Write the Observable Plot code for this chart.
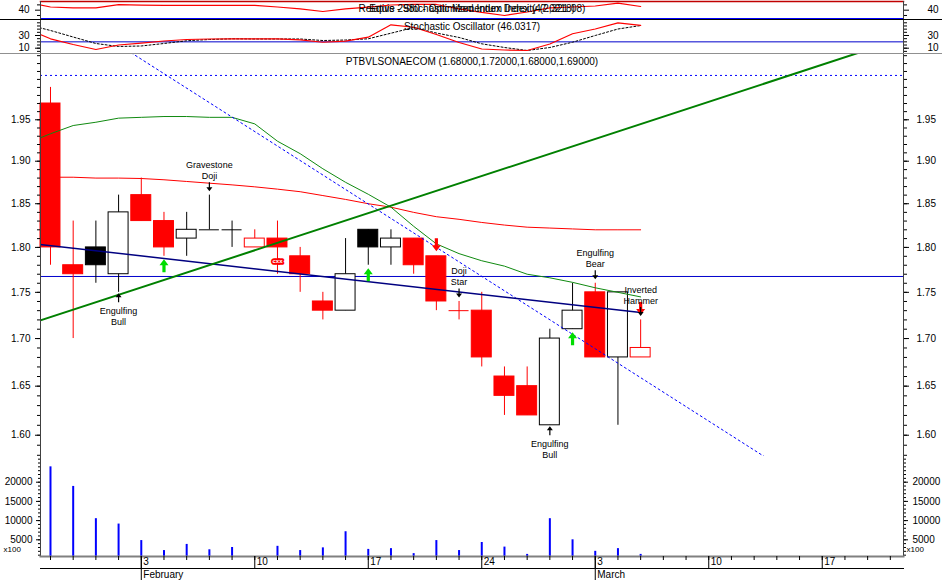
<!DOCTYPE html>
<html><head><meta charset="utf-8">
<script src="https://cdn.jsdelivr.net/npm/d3@7"></script>
<script src="https://cdn.jsdelivr.net/npm/@observablehq/plot@0.6"></script>
<style>
body{margin:0;background:#fff;}
#chart{position:relative;width:942px;height:580px;overflow:hidden;background:#fff;font-family:"Liberation Sans",Arial,sans-serif;}
.panel{position:absolute;left:0;width:942px;}
.panel svg{overflow:visible;display:block;}
</style></head><body>
<div id="chart">
<div class="panel" id="pA" style="top:0"></div>
<div class="panel" id="pB" style="top:19px;border-top:1px solid #000"></div>
<div class="panel" id="pC" style="top:53px;border-top:1px solid #909090"></div>
<div class="panel" id="pD" style="top:456px"></div>
</div>
<script>
// ---------- data ----------
const dates = ["Jan 28","Jan 29","Jan 30","Jan 31","Feb 3","Feb 4","Feb 5","Feb 6","Feb 7","Feb 10","Feb 11","Feb 12","Feb 13","Feb 14","Feb 17","Feb 18","Feb 19","Feb 20","Feb 21","Feb 24","Feb 25","Feb 26","Feb 27","Feb 28","Mar 3","Mar 4","Mar 5"];
const open  = [1.97,1.78,1.80,1.77,1.86,1.83,1.81,1.82,1.82,1.80,1.81,1.79,1.74,1.73,1.82,1.80,1.81,1.79,1.73,1.73,1.66,1.65,1.61,1.71,1.75,1.68,1.68];
const high  = [1.99,1.83,1.83,1.86,1.88,1.84,1.84,1.86,1.83,1.82,1.83,1.80,1.75,1.81,1.82,1.82,1.81,1.79,1.74,1.75,1.67,1.67,1.71,1.76,1.76,1.75,1.72];
const low   = [1.78,1.70,1.76,1.75,1.83,1.79,1.79,1.82,1.80,1.80,1.77,1.75,1.72,1.73,1.78,1.78,1.77,1.73,1.72,1.67,1.62,1.62,1.61,1.71,1.68,1.61,1.68];
const close = [1.80,1.77,1.78,1.84,1.83,1.80,1.82,1.82,1.82,1.81,1.80,1.77,1.73,1.77,1.80,1.81,1.78,1.74,1.73,1.68,1.64,1.62,1.70,1.73,1.68,1.75,1.69];
const volume = [24000,18900,10500,9100,4800,2200,3800,2400,3000,0,3300,2200,2900,7100,2500,2700,1400,4800,2200,4300,3100,1200,10500,5000,2000,2700,1200];

// indicator series start one session before the first visible candle (index -1)
const indIdx = d3.range(-1, 27);
const maLong  = [1.922,1.933,1.943,1.947,1.952,1.953,1.954,1.954,1.953,1.953,1.945,1.924,1.909,1.891,1.875,1.861,1.846,1.824,1.804,1.793,1.785,1.779,1.770,1.766,1.761,1.755,1.750,1.745];
const maRed   = [1.881,1.881,1.881,1.880,1.880,1.8795,1.878,1.876,1.874,1.872,1.8697,1.867,1.864,1.8595,1.855,1.850,1.846,1.840,1.835,1.832,1.8284,1.8254,1.823,1.822,1.821,1.820,1.820,1.820];
const stochK  = [40.0,24.8,15.8,8.0,15.0,17.9,21.3,23.7,24.5,24.8,24.8,24.8,23.2,19.4,21.0,27.3,46.8,43.0,31.6,19.0,8.7,7.2,6.4,16.6,32.7,40.2,50.0,46.03];
const stochD  = [47.0,37.9,27.6,17.4,12.7,13.5,17.4,21.7,23.7,24.8,24.5,24.5,24.5,22.1,22.9,24.8,33.6,42.6,33.9,26.9,16.9,11.1,6.4,11.1,19.4,30.0,40.2,45.7];
const smi     = [54.5,46.0,44.5,44.5,50.4,49.4,49.2,48.9,48.9,48.9,48.9,46.0,42.6,37.5,42.3,45.7,49.8,50.8,50.8,42.6,35.7,30.0,36.6,44.5,46.0,47.9,53.2,47.0];

// trend lines [index, price]
const greenTrend = [[-1,1.715],[37,2.047]];
const navyTrend  = [[-1,1.805],[26,1.728]];
const dotTrend   = [[3,2.044],[31.5,1.578]];
const hLevel = 1.7675;
const hDotLevel = 2.005;
const stochLevel = 20;

// candle patterns and signals
const patIdx   = [3,7,18,22,24,26];
const patDir   = ["up","down","down","up","down","down"];
const patLine1 = ["Engulfing","Gravestone","Doji","Engulfing","Engulfing","Inverted"];
const patLine2 = ["Bull","Doji","Star","Bull","Bear","Hammer"];
const buySignals  = [5,14,23];
const sellSignals = [17,26];
const expertIdx = [10];
const expertPrice = [1.785];

// axis ticks / labels
const priceTicks = [1.60,1.65,1.70,1.75,1.80,1.85,1.90,1.95];
const volTicks = [5000,10000,15000,20000];
const stochTicks = [10,30];
const smiTicks = [40];
const dayTicks = d3.range(0,38);
const weekTicks = [4,9,14,19,24,29,34];
const weekLabels = ["3","10","17","24","3","10","17"];
const monthTicks = [4,24];
const monthLabels = ["February","March"];

const titleSMI1 = "Equis - Stochastic Momentum Index (47.0218)";
const titleSMI2 = "Relative 2980 - Optimized Index Density (2,321.08)";
const titleStoch = "Stochastic Oscillator (46.0317)";
const titlePrice = "PTBVLSONAECOM (1.68000,1.72000,1.68000,1.69000)";

// ---------- build ----------
const RED = "#ff0000", BLK = "#000000", AX = "#404040";
const W = 942, ML = 40, MR = 39;
const xScale = {type: "linear", domain: [-0.44, 37.58], axis: null};
const font = {fontFamily: "'Liberation Sans', Arial, sans-serif", fontSize: "10px", background: "white", overflow: "visible"};
const fontClear = {...font, background: "transparent"};
const noText = () => "";

const candles = open.map((o, i) => {
  const prev = i === 0 ? o : close[i - 1];
  const color = close[i] < prev ? RED : BLK;
  return {i, date: dates[i], open: o, high: high[i], low: low[i], close: close[i], color,
          fill: close[i] < o ? color : "white"};
});
const bodies = candles.filter(d => d.open !== d.close);
const dojis = candles.filter(d => d.open === d.close);
const ind = indIdx.map((i, k) => ({i, maLong: maLong[k], maRed: maRed[k], k: stochK[k], d: stochD[k], smi: smi[k]}));
const pats = patIdx.map((i, k) => ({i, dir: patDir[k], l1: patLine1[k], l2: patLine2[k], low: low[i], high: high[i]}));
const up = pats.filter(d => d.dir === "up"), down = pats.filter(d => d.dir === "down");
const buys = buySignals.map(i => ({i, low: low[i]}));
const sells = sellSignals.map(i => ({i, high: high[i]}));
const experts = expertIdx.map((i, k) => ({i, price: expertPrice[k]}));
const vols = volume.map((v, i) => ({i, v}));
const wkMap = new Map(weekTicks.map((d, k) => [d, weekLabels[k]]));
const moMap = new Map(monthTicks.map((d, k) => [d, monthLabels[k]]));

function arrowShape(headW, headH, stemW) {
  return {draw(ctx, l) {
    ctx.moveTo(0, -l);
    ctx.lineTo(headW, -l + headH);
    ctx.lineTo(stemW, -l + headH);
    ctx.lineTo(stemW, 0);
    ctx.lineTo(-stemW, 0);
    ctx.lineTo(-stemW, -l + headH);
    ctx.lineTo(-headW, -l + headH);
    ctx.closePath();
  }};
}
const thinArrow = arrowShape(3, 4, 0.6);
const fatArrow = arrowShape(4.5, 6, 1.6);

function yTicks(ticks, minor, leftPad, rightPad, fmt, major = 5, minorSize = 3) {
  return [
    Plot.axisY(minor, {anchor: "left", tickSize: minorSize, tickFormat: noText, label: null}),
    Plot.axisY(minor, {anchor: "right", tickSize: minorSize, tickFormat: noText, label: null}),
    Plot.axisY(ticks, {anchor: "left", tickSize: major, tickPadding: leftPad, tickFormat: fmt, label: null}),
    Plot.axisY(ticks, {anchor: "right", tickSize: major, tickPadding: rightPad, tickFormat: fmt, label: null})
  ];
}

// Panel A: SMI
const pA = Plot.plot({
  width: W, height: 19, marginLeft: ML, marginRight: MR, marginTop: 1, marginBottom: 1,
  style: font,
  x: xScale,
  y: {domain: [24.3, 56.4], axis: null},
  marks: [
    Plot.line(ind, {x: "i", y: "smi", stroke: RED, strokeWidth: 1.2, clip: true}),
    Plot.frame({anchor: "bottom", stroke: "#0000ff"}),
    Plot.frame({anchor: "top", stroke: "#c00000", strokeWidth: 1.5}),
    Plot.frame({anchor: "left", stroke: AX}),
    Plot.frame({anchor: "right", stroke: AX}),
    ...yTicks(smiTicks, [30, 50], 6, 19, d => String(d)),
    Plot.text([titleSMI1], {text: d => d, frameAnchor: "top", dy: 7.3, lineAnchor: "middle", fontSize: 10}),
    Plot.text([titleSMI2], {text: d => d, frameAnchor: "top", dy: 7.3, lineAnchor: "middle", fontSize: 10})
  ]
});
document.getElementById("pA").append(pA);

// Panel B: Stochastic
const pB = Plot.plot({
  width: W, height: 34, marginLeft: ML, marginRight: MR, marginTop: 0, marginBottom: 1,
  style: font,
  x: xScale,
  y: {domain: [1.65, 53.62], axis: null},
  marks: [
    Plot.ruleY([stochLevel], {stroke: "#0000cc"}),
    Plot.line(ind, {x: "i", y: "d", stroke: BLK, strokeDasharray: "2,2", strokeWidth: 1, clip: true}),
    Plot.line(ind, {x: "i", y: "k", stroke: RED, strokeWidth: 1.2, clip: true}),
    Plot.frame({anchor: "left", stroke: AX}),
    Plot.frame({anchor: "right", stroke: AX}),
    ...yTicks(stochTicks, d3.range(5, 55, 5), 6, 19, d => String(d)),
    Plot.text([titleStoch], {text: d => d, frameAnchor: "top", dy: 6.7, lineAnchor: "middle", fontSize: 10})
  ]
});
document.getElementById("pB").append(pB);

// Panel C: Price
const pC = Plot.plot({
  width: W, height: 402, marginLeft: ML, marginRight: MR, marginTop: 0, marginBottom: 0,
  style: font,
  x: xScale,
  y: {type: "log", domain: [1.5788, 2.0315], axis: null},
  marks: [
    Plot.ruleY([hDotLevel], {stroke: "#0000ff", strokeDasharray: "2,3"}),
    Plot.ruleY([hLevel], {stroke: "#0000cc"}),
    Plot.ruleX(candles, {x: "i", y1: "low", y2: "high", stroke: "color"}),
    Plot.rect(bodies, {x1: d => d.i - 0.44, x2: d => d.i + 0.44, y1: "open", y2: "close", fill: "fill", stroke: "color"}),
    Plot.ruleY(dojis, {y: "close", x1: d => d.i - 0.44, x2: d => d.i + 0.44, stroke: "color"}),
    Plot.line(ind, {x: "i", y: "maRed", stroke: RED, strokeWidth: 1, clip: true}),
    Plot.line(ind, {x: "i", y: "maLong", stroke: "#108a10", strokeWidth: 1, clip: true}),
    Plot.line(dotTrend, {x: d => d[0], y: d => d[1], stroke: "#0000ff", strokeDasharray: "2,3", strokeWidth: 1, clip: true}),
    Plot.line(navyTrend, {x: d => d[0], y: d => d[1], stroke: "#000080", strokeWidth: 1.5, clip: true}),
    Plot.line(greenTrend, {x: d => d[0], y: d => d[1], stroke: "#008000", strokeWidth: 2, clip: true}),
    // expert symbol
    Plot.text(experts, {x: "i", y: "price", text: () => "cxx", fontSize: 6, fill: "white", stroke: RED, strokeWidth: 3.5, fontWeight: "bold"}),
    // signal arrows
    Plot.vector(buys, {x: "i", y: "low", length: 13, rotate: 0, anchor: "end", dy: 3, shape: fatArrow, fill: "#00dd00", stroke: "none"}),
    Plot.vector(sells, {x: "i", y: "high", length: 13, rotate: 180, anchor: "end", dy: -5, shape: fatArrow, fill: RED, stroke: "none"}),
    // pattern arrows and labels
    Plot.vector(up, {x: "i", y: "low", length: 9, rotate: 0, anchor: "end", dy: 1, shape: thinArrow, fill: BLK, stroke: "none"}),
    Plot.vector(down, {x: "i", y: "high", length: 9, rotate: 180, anchor: "end", dy: -4, shape: thinArrow, fill: BLK, stroke: "none"}),
    Plot.text(up, {x: "i", y: "low", text: "l1", dy: 19, lineAnchor: "middle", fontSize: 9}),
    Plot.text(up, {x: "i", y: "low", text: "l2", dy: 30, lineAnchor: "middle", fontSize: 9}),
    Plot.text(down, {x: "i", y: "high", text: "l1", dy: -30, lineAnchor: "middle", fontSize: 9}),
    Plot.text(down, {x: "i", y: "high", text: "l2", dy: -19, lineAnchor: "middle", fontSize: 9}),
    Plot.frame({anchor: "left", stroke: AX}),
    Plot.frame({anchor: "right", stroke: AX}),
    ...yTicks(priceTicks, d3.range(158, 204).map(d => d / 100), 5, 8, d => d.toFixed(2)),
    Plot.text([titlePrice], {text: d => d, frameAnchor: "top", dy: 7.7, lineAnchor: "middle", fontSize: 10})
  ]
});
document.getElementById("pC").append(pC);

// Panel D: Volume + date axis
const pD = Plot.plot({
  width: W, height: 124, marginLeft: ML, marginRight: MR, marginTop: 0, marginBottom: 24,
  style: fontClear,
  x: xScale,
  y: {domain: [651, 26693], axis: null},
  marks: [
    Plot.ruleX(vols.filter(d => d.v > 0), {x: "i", y1: 0, y2: "v", stroke: "#0000ff", strokeWidth: 2, clip: true}),
    Plot.frame({anchor: "left", stroke: AX}),
    Plot.frame({anchor: "right", stroke: AX}),
    ...yTicks(volTicks, d3.range(1000, 27000, 1000), 4, 5, d => String(d), 4, 2),
    Plot.text(["x100"], {text: d => d, frameAnchor: "bottom-left", dx: -37, dy: -7, textAnchor: "start", lineAnchor: "middle", fontSize: 8}),
    Plot.text(["x100"], {text: d => d, frameAnchor: "bottom-right", dx: 3, dy: -7, textAnchor: "start", lineAnchor: "middle", fontSize: 8}),
    Plot.frame({anchor: "bottom", stroke: "#808080", strokeWidth: 2}),
    Plot.axisX(dayTicks, {anchor: "bottom", tickSize: 4, tickFormat: noText, label: null}),
    Plot.axisX(weekTicks, {anchor: "bottom", tickSize: 12, tickFormat: noText, label: null}),
    Plot.axisX(weekTicks, {anchor: "bottom", tickSize: 0, tickPadding: 1, tickFormat: d => wkMap.get(d), textAnchor: "start", dx: 2, label: null}),
    Plot.axisX(monthTicks, {anchor: "bottom", tickSize: 24, tickFormat: noText, label: null}),
    Plot.axisX(monthTicks, {anchor: "bottom", tickSize: 0, tickPadding: 14, tickFormat: d => moMap.get(d), textAnchor: "start", dx: 2, label: null}),
    Plot.frame({anchor: "bottom", dy: 12, stroke: BLK})
  ]
});
document.getElementById("pD").append(pD);
</script>
</body></html>
